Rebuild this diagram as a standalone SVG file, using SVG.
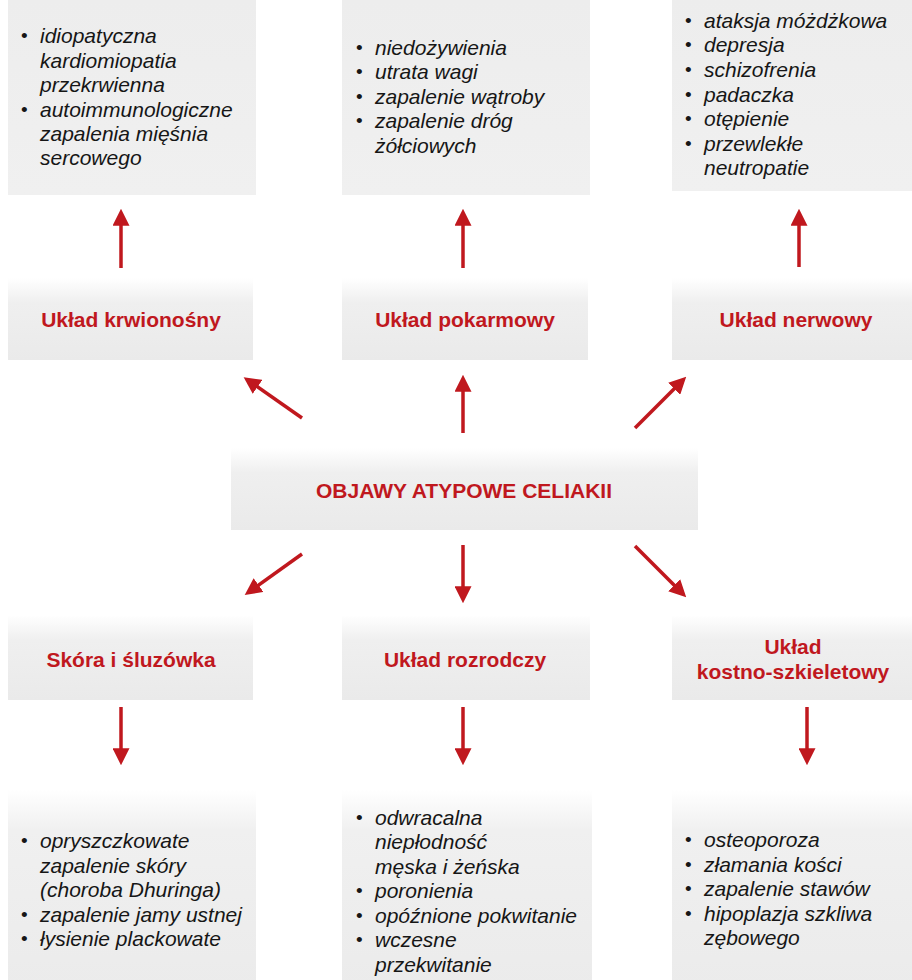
<svg xmlns="http://www.w3.org/2000/svg" width="912" height="980" viewBox="0 0 912 980">
<defs>
<linearGradient id="g" x1="0" y1="0" x2="0" y2="1">
<stop offset="0" stop-color="#ffffff"/>
<stop offset="0.3" stop-color="#efefef"/>
<stop offset="1" stop-color="#eaeaea"/>
</linearGradient>
<linearGradient id="gt" x1="0" y1="0" x2="0" y2="1">
<stop offset="0" stop-color="#ededed"/>
<stop offset="1" stop-color="#f0f0f0"/>
</linearGradient>
<linearGradient id="gb" x1="0" y1="0" x2="0" y2="1">
<stop offset="0" stop-color="#ffffff"/>
<stop offset="0.2" stop-color="#f0f0f0"/>
<stop offset="1" stop-color="#ebebeb"/>
</linearGradient>
<marker id="ah" viewBox="0 0 10 10" refX="4" refY="5" markerWidth="17" markerHeight="17" markerUnits="userSpaceOnUse" orient="auto">
<path d="M0,0 L10,5 L0,10 z" fill="#c0181e"/>
</marker>
</defs>
<style>
.box{fill:url(#g)}
.boxt{fill:url(#gt)}
.boxb{fill:url(#gb)}
.lbl{font-family:"Liberation Sans",Arial,sans-serif;font-weight:bold;font-size:21px;fill:#c0181e;text-anchor:middle}
.li{font-family:"Liberation Sans",Arial,sans-serif;font-style:italic;font-size:21px;fill:#161616}
.bu{font-family:"Liberation Sans",Arial,sans-serif;font-size:19px;fill:#161616}
.c{stroke:#c0181e;stroke-width:3.5;fill:none;marker-end:url(#ah)}
</style>

<g id="node-krwionosny-list">
<rect class="boxt" x="8" y="0" width="248" height="195"/>
<text class="bu" x="21" y="42">•</text>
<text class="li" x="40" y="43">idiopatyczna</text>
<text class="li" x="40" y="68">kardiomiopatia</text>
<text class="li" x="40" y="92">przekrwienna</text>
<text class="bu" x="21" y="116">•</text>
<text class="li" x="40" y="117">autoimmunologiczne</text>
<text class="li" x="40" y="141">zapalenia mięśnia</text>
<text class="li" x="40" y="165">sercowego</text>
</g>

<g id="node-pokarmowy-list">
<rect class="boxt" x="342" y="0" width="248" height="195"/>
<text class="bu" x="356" y="54">•</text>
<text class="li" x="375" y="55">niedożywienia</text>
<text class="bu" x="356" y="78">•</text>
<text class="li" x="375" y="79">utrata wagi</text>
<text class="bu" x="356" y="103">•</text>
<text class="li" x="375" y="104">zapalenie wątroby</text>
<text class="bu" x="356" y="127">•</text>
<text class="li" x="375" y="128">zapalenie dróg</text>
<text class="li" x="375" y="153">żółciowych</text>
</g>

<g id="node-nerwowy-list">
<rect class="boxt" x="672" y="0" width="240" height="191"/>
<text class="bu" x="685" y="27">•</text>
<text class="li" x="704" y="28">ataksja móżdżkowa</text>
<text class="bu" x="685" y="51">•</text>
<text class="li" x="704" y="52">depresja</text>
<text class="bu" x="685" y="76">•</text>
<text class="li" x="704" y="77">schizofrenia</text>
<text class="bu" x="685" y="101">•</text>
<text class="li" x="704" y="102">padaczka</text>
<text class="bu" x="685" y="125">•</text>
<text class="li" x="704" y="126">otępienie</text>
<text class="bu" x="685" y="150">•</text>
<text class="li" x="704" y="151">przewlekłe</text>
<text class="li" x="704" y="175">neutropatie</text>
</g>

<g id="node-krwionosny">
<rect class="box" x="8" y="278" width="245" height="82"/>
<text class="lbl" x="131" y="327">Układ krwionośny</text>
</g>

<g id="node-pokarmowy">
<rect class="box" x="342" y="278" width="246" height="82"/>
<text class="lbl" x="465" y="327">Układ pokarmowy</text>
</g>

<g id="node-nerwowy">
<rect class="box" x="672" y="278" width="240" height="82"/>
<text class="lbl" x="796" y="327">Układ nerwowy</text>
</g>

<g id="node-center">
<rect class="box" x="231" y="448" width="467" height="82"/>
<text class="lbl" x="464" y="498">OBJAWY ATYPOWE CELIAKII</text>
</g>

<g id="node-skora">
<rect class="box" x="8" y="615" width="245" height="85"/>
<text class="lbl" x="131" y="667">Skóra i śluzówka</text>
</g>

<g id="node-rozrodczy">
<rect class="box" x="342" y="615" width="248" height="85"/>
<text class="lbl" x="465" y="667">Układ rozrodczy</text>
</g>

<g id="node-kostny">
<rect class="box" x="672" y="615" width="240" height="85"/>
<text class="lbl" x="793" y="654">Układ</text>
<text class="lbl" x="793" y="679">kostno-szkieletowy</text>
</g>

<g id="node-skora-list">
<rect class="boxb" x="8" y="790" width="248" height="200"/>
<text class="bu" x="21" y="847">•</text>
<text class="li" x="40" y="848">opryszczkowate</text>
<text class="li" x="40" y="873">zapalenie skóry</text>
<text class="li" x="40" y="897">(choroba Dhuringa)</text>
<text class="bu" x="21" y="921">•</text>
<text class="li" x="40" y="922">zapalenie jamy ustnej</text>
<text class="bu" x="21" y="945">•</text>
<text class="li" x="40" y="946">łysienie plackowate</text>
</g>

<g id="node-rozrodczy-list">
<rect class="boxb" x="342" y="790" width="250" height="200"/>
<text class="bu" x="356" y="824">•</text>
<text class="li" x="375" y="825">odwracalna</text>
<text class="li" x="375" y="849">niepłodność</text>
<text class="li" x="375" y="874">męska i żeńska</text>
<text class="bu" x="356" y="897">•</text>
<text class="li" x="375" y="898">poronienia</text>
<text class="bu" x="356" y="922">•</text>
<text class="li" x="375" y="923">opóźnione pokwitanie</text>
<text class="bu" x="356" y="946">•</text>
<text class="li" x="375" y="947">wczesne</text>
<text class="li" x="375" y="972">przekwitanie</text>
</g>

<g id="node-kostny-list">
<rect class="boxb" x="672" y="790" width="240" height="200"/>
<text class="bu" x="685" y="846">•</text>
<text class="li" x="704" y="847">osteoporoza</text>
<text class="bu" x="685" y="871">•</text>
<text class="li" x="704" y="872">złamania kości</text>
<text class="bu" x="685" y="895">•</text>
<text class="li" x="704" y="896">zapalenie stawów</text>
<text class="bu" x="685" y="920">•</text>
<text class="li" x="704" y="921">hipoplazja szkliwa</text>
<text class="li" x="704" y="945">zębowego</text>
</g>

<g id="connectors">
<line class="c" x1="121" y1="268" x2="121" y2="219"/>
<line class="c" x1="463" y1="268" x2="463" y2="219"/>
<line class="c" x1="799" y1="267" x2="799" y2="219"/>
<line class="c" x1="463" y1="433" x2="463" y2="385"/>
<line class="c" x1="302" y1="418" x2="252" y2="383"/>
<line class="c" x1="635" y1="428" x2="679" y2="384"/>
<line class="c" x1="302" y1="554" x2="253" y2="589"/>
<line class="c" x1="463" y1="545" x2="463" y2="593"/>
<line class="c" x1="635" y1="546" x2="679" y2="590"/>
<line class="c" x1="121" y1="707" x2="121" y2="755"/>
<line class="c" x1="463" y1="707" x2="463" y2="755"/>
<line class="c" x1="807" y1="707" x2="807" y2="755"/>
</g>
</svg>
